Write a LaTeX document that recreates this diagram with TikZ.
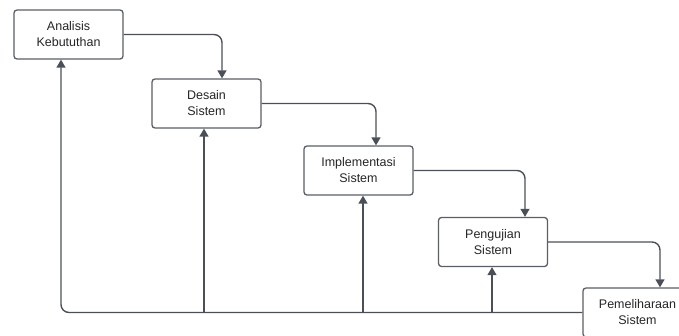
\documentclass[tikz,border=0pt]{standalone}
\usepackage{fontspec}
\setmainfont{Liberation Sans}
\usetikzlibrary{arrows.meta}
\definecolor{lineC}{HTML}{4B5058}
\definecolor{boxC}{HTML}{5A5E66}
\tikzset{
  stepbox/.style={draw=boxC, line width=1.3pt, rounded corners=3pt, fill=white,
    minimum width=109pt, minimum height=49pt, inner sep=0pt, align=center,
    font=\fontsize{12.5pt}{16pt}\selectfont, text=black!85},
  conn/.style={draw=lineC, line width=1.4pt, rounded corners=8pt,
    -{Triangle[width=9pt,length=8pt]}},
  plain/.style={draw=lineC, line width=1.4pt}
}
\begin{document}
\begin{tikzpicture}[x=1pt,y=-1pt]
\clip (0,0) rectangle (679,335);
\node[stepbox] (a) at (68.5,34.5) {Analisis\\Kebututhan};
\node[stepbox] (b) at (206.5,103.5) {Desain\\Sistem};
\node[stepbox] (c) at (358.5,170.5) {Implementasi\\Sistem};
\node[stepbox] (d) at (493,242) {Pengujian\\Sistem};
\node[stepbox] (e) at (637.5,312.5) {Pemeliharaan\\Sistem};
\draw[conn] (a.east) -| ([xshift=15.5pt]b.north);
\draw[conn] (b.east) -| ([xshift=17.5pt]c.north);
\draw[conn] (c.east) -| ([xshift=32pt]d.north);
\draw[conn] (d.east) -| ([xshift=22.5pt]e.north);
\draw[conn] (e.west) -| ([xshift=-7.5pt]a.south);
\coordinate (j2) at (204,312.5);
\coordinate (j3) at (363,312.5);
\coordinate (j4) at (492,312.5);
\draw[conn] (j2) -- (j2 |- b.south);
\draw[conn] (j3) -- (j3 |- c.south);
\draw[conn] (j4) -- (j4 |- d.south);
\end{tikzpicture}
\end{document}
